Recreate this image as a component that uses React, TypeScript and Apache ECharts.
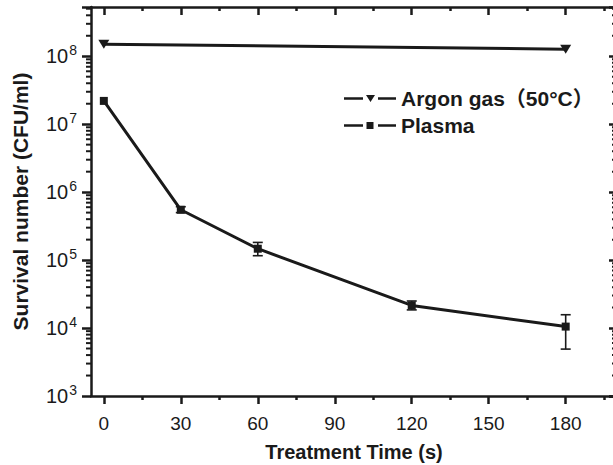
import React, { useEffect, useRef } from "react";
import * as echarts from "echarts";

// ---- data ----
const timeTicks = [0, 30, 60, 90, 120, 150, 180];
const timeMinorTicks = [15, 45, 75, 105, 135, 165, 195];
const argonTimes = [0, 180];
const argonValues = [1.5e8, 1.27e8];
const plasmaTimes = [0, 30, 60, 120, 180];
const plasmaValues = [2.2e7, 5.5e5, 1.47e5, 2.15e4, 1.05e4];
const plasmaErrLow = [2.2e7, 5.0e5, 1.16e5, 1.85e4, 4.9e3];
const plasmaErrHigh = [2.2e7, 6.1e5, 1.82e5, 2.5e4, 1.57e4];
const minorMultipliers = [2, 3, 4, 5, 6, 7, 8, 9];
const minorDecades = [1e3, 1e4, 1e5, 1e6, 1e7, 1e8];

const X_MIN = -5;
const X_MAX = 200;
const Y_MIN = 1e3;
const Y_MAX = 5.3e8;

const FONT = "'Liberation Sans', Arial, Helvetica, 'Noto Sans CJK SC', sans-serif";
const INK = "#1a1a1a";

const minorLogTicks = minorDecades
  .flatMap((d) => minorMultipliers.map((m) => m * d))
  .filter((v) => v < Y_MAX);

const argonName = "Argon gas（50°C）";
const plasmaName = "Plasma";

export default function App() {
  const ref = useRef<HTMLDivElement>(null);

  useEffect(() => {
    if (!ref.current) return;
    const chart = echarts.init(ref.current, null, { renderer: "svg" });

    const baseX = {
      type: "value",
      min: X_MIN,
      max: X_MAX,
      splitLine: { show: false },
      axisLabel: { show: false },
    };

    const option: any = {
      animation: false,
      backgroundColor: "#ffffff",
      grid: {
        left: 91,
        right: 3,
        top: 7,
        bottom: 69,
        containLabel: false,
        outerBoundsMode: "none",
      },
      legend: {
        orient: "vertical",
        left: 339,
        top: 83,
        itemWidth: 52,
        itemHeight: 7,
        itemGap: 6,
        selectedMode: false,
        textStyle: { fontSize: 21, fontWeight: "bold", color: INK, fontFamily: FONT },
        data: [
          {
            name: argonName,
            icon: "path://M0,2.25H19V4.75H0Z M22,0H31L26.5,7Z M34,2.25H52V4.75H34Z",
          },
          {
            name: plasmaName,
            icon: "path://M0,2.25H19V4.75H0Z M22.5,0H29.5V7H22.5Z M34,2.25H52V4.75H34Z",
          },
        ],
      },
      xAxis: [
        {
          ...baseX,
          position: "bottom",
          name: "Treatment Time (s)",
          nameLocation: "middle",
          nameGap: 46,
          nameTextStyle: { fontSize: 20, fontWeight: "bold", color: INK, fontFamily: FONT },
          axisLine: { show: true, onZero: false, lineStyle: { color: INK, width: 2.5 } },
          axisTick: { show: true, inside: false, length: 8, lineStyle: { color: INK, width: 2.5 }, customValues: timeTicks },
          axisLabel: { show: true, margin: 18, fontSize: 19, color: INK, fontFamily: FONT, customValues: timeTicks },
        },
        {
          ...baseX,
          position: "bottom",
          axisLine: { show: false, onZero: false },
          axisTick: { show: true, inside: false, length: 4, lineStyle: { color: INK, width: 2.5 }, customValues: timeMinorTicks },
        },
        {
          ...baseX,
          position: "top",
          axisLine: { show: true, onZero: false, lineStyle: { color: INK, width: 2.5 } },
          axisTick: { show: true, inside: true, length: 8, lineStyle: { color: INK, width: 2.5 }, customValues: timeTicks },
        },
        {
          ...baseX,
          position: "top",
          axisLine: { show: false, onZero: false },
          axisTick: { show: true, inside: true, length: 4, lineStyle: { color: INK, width: 2.5 }, customValues: timeMinorTicks },
        },
      ],
      yAxis: [
        {
          type: "log",
          logBase: 10,
          min: Y_MIN,
          max: Y_MAX,
          position: "left",
          name: "Survival number (CFU/ml)",
          nameLocation: "middle",
          nameGap: 60,
          nameTextStyle: { fontSize: 21, fontWeight: "bold", color: INK, fontFamily: FONT },
          splitLine: { show: false },
          minorTick: { show: false },
          axisLine: { show: true, onZero: false, lineStyle: { color: INK, width: 2.5 } },
          axisTick: { show: true, inside: false, length: 9, lineStyle: { color: INK, width: 2.5 } },
          axisLabel: {
            show: true,
            margin: 14,
            formatter: (v: number) => {
              const e = Math.log10(v);
              if (Math.abs(e - Math.round(e)) > 1e-6) return "";
              return `{b|10}{s|${Math.round(e)}}`;
            },
            rich: {
              b: { fontSize: 20, color: INK, fontFamily: FONT },
              s: { fontSize: 14, color: INK, fontFamily: FONT, padding: [0, 0, 12, 1] },
            },
          },
        },
        {
          type: "log",
          logBase: 10,
          min: Y_MIN,
          max: Y_MAX,
          position: "right",
          splitLine: { show: false },
          minorTick: { show: false },
          axisLine: { show: true, onZero: false, lineStyle: { color: INK, width: 2.5 } },
          axisTick: { show: true, inside: true, length: 8, lineStyle: { color: INK, width: 2.5 } },
          axisLabel: { show: false },
        },
      ],
      series: [
        {
          type: "custom",
          name: "minorTicks",
          silent: true,
          clip: false,
          xAxisIndex: 0,
          yAxisIndex: 0,
          data: minorLogTicks.map((v) => [X_MIN, v]),
          encode: { x: 0, y: 1 },
          renderItem: (params: any, api: any) => {
            const v = api.value(1);
            const cs = params.coordSys;
            const y = api.coord([X_MIN, v])[1];
            const left = cs.x;
            const right = cs.x + cs.width;
            return {
              type: "group",
              children: [
                {
                  type: "line",
                  shape: { x1: left - 5, y1: y, x2: left, y2: y },
                  style: { stroke: INK, lineWidth: 2 },
                },
                {
                  type: "line",
                  shape: { x1: right - 5, y1: y, x2: right, y2: y },
                  style: { stroke: INK, lineWidth: 2 },
                },
              ],
            };
          },
        },
        {
          type: "custom",
          name: "errorBars",
          silent: true,
          clip: false,
          xAxisIndex: 0,
          yAxisIndex: 0,
          data: plasmaTimes.map((t, i) => [t, plasmaErrLow[i], plasmaErrHigh[i]]),
          encode: { x: 0, y: [1, 2] },
          renderItem: (params: any, api: any) => {
            const x = api.value(0);
            const lo = api.coord([x, api.value(1)]);
            const hi = api.coord([x, api.value(2)]);
            if (Math.abs(lo[1] - hi[1]) < 1) return { type: "group", children: [] };
            const w = 5;
            const st = { stroke: INK, lineWidth: 1.6 };
            return {
              type: "group",
              children: [
                { type: "line", shape: { x1: lo[0], y1: lo[1], x2: hi[0], y2: hi[1] }, style: st },
                { type: "line", shape: { x1: lo[0] - w, y1: lo[1], x2: lo[0] + w, y2: lo[1] }, style: st },
                { type: "line", shape: { x1: hi[0] - w, y1: hi[1], x2: hi[0] + w, y2: hi[1] }, style: st },
              ],
            };
          },
        },
        {
          type: "line",
          name: argonName,
          xAxisIndex: 0,
          yAxisIndex: 0,
          data: argonTimes.map((t, i) => [t, argonValues[i]]),
          symbol: "triangle",
          symbolRotate: 180,
          symbolSize: [11, 9],
          lineStyle: { color: INK, width: 3 },
          itemStyle: { color: INK },
          z: 3,
        },
        {
          type: "line",
          name: plasmaName,
          xAxisIndex: 0,
          yAxisIndex: 0,
          data: plasmaTimes.map((t, i) => [t, plasmaValues[i]]),
          symbol: "rect",
          symbolSize: 8,
          lineStyle: { color: INK, width: 3 },
          itemStyle: { color: INK },
          z: 3,
        },
      ],
    };

    chart.setOption(option);
    return () => chart.dispose();
  }, []);

  return (
    <div
      style={{
        position: "absolute",
        left: 0,
        top: 0,
        width: 613,
        height: 465,
        overflow: "hidden",
        background: "#fff",
      }}
    >
      <div ref={ref} style={{ width: 620, height: 465 }} />
    </div>
  );
}
